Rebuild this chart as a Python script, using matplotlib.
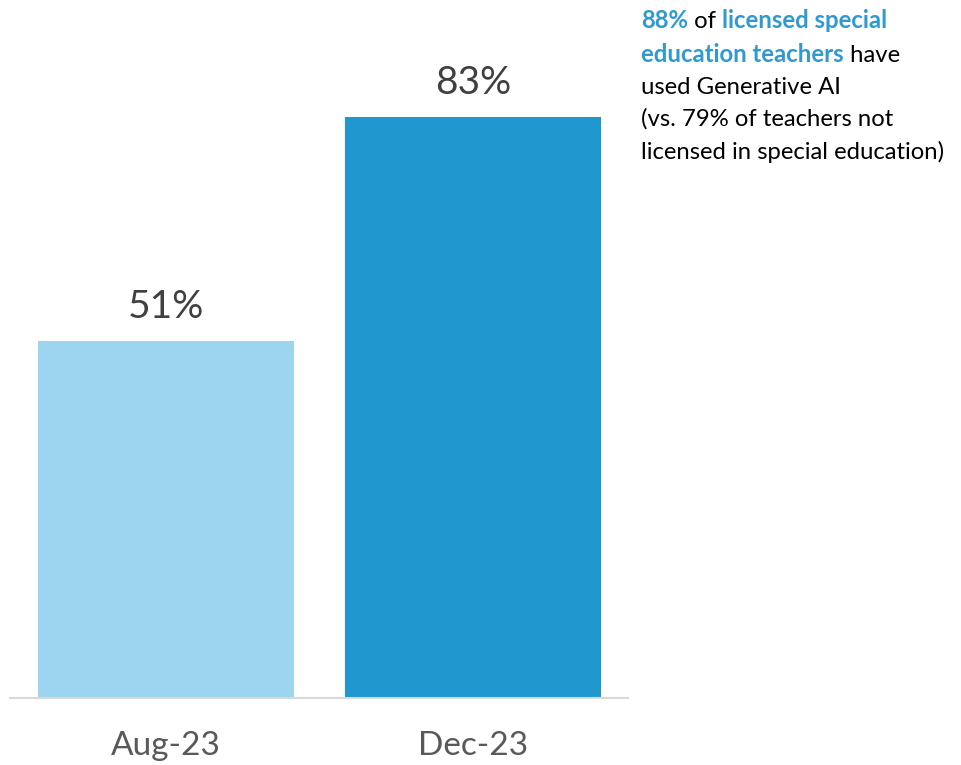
import matplotlib.pyplot as plt
from matplotlib.offsetbox import TextArea, HPacker, VPacker, AnchoredOffsetbox

# data
periods = ["Aug-23", "Dec-23"]
shares = [51, 83]
bar_colors = ["#9DD4F0", "#2097CE"]

note_lines = [
    [("88%", True), (" of ", False), ("licensed special", True)],
    [("education teachers", True), (" have", False)],
    [("used Generative AI", False)],
    [("(vs. 79% of teachers not", False)],
    [("licensed in special education)", False)],
]

plt.rcParams["font.family"] = ["Lato", "DejaVu Sans"]

fig = plt.figure(figsize=(9.61, 7.65), dpi=100)
ax = fig.add_axes([10 / 961, 67 / 765, 618 / 961, 700 / 765])

x = range(len(periods))
ax.bar(x, shares, width=0.834, color=bar_colors)
for xi, v in zip(x, shares):
    ax.text(xi, v + 2.3, f"{v}%", ha="center", va="bottom", fontsize=28, color="#404040")

ax.set_xlim(-0.508, 1.505)
ax.set_ylim(0, 100)
ax.set_xticks(list(x))
ax.set_xticklabels(periods, fontsize=24, color="#595959")
ax.tick_params(axis="x", length=0, pad=24)
ax.set_yticks([])
for s in ["top", "right", "left"]:
    ax.spines[s].set_visible(False)
ax.spines["bottom"].set_color("#D9D9D9")
ax.spines["bottom"].set_linewidth(1.5)

# annotation at upper right, mixed colours
rows = []
for line in note_lines:
    parts = []
    for txt, hl in line:
        parts.append(TextArea(txt, textprops=dict(
            fontsize=17.2,
            color="#2E9AD0" if hl else "black",
            fontweight="bold" if hl else "normal")))
    rows.append(HPacker(children=parts, align="baseline", pad=0, sep=0))
box = VPacker(children=rows, align="left", pad=0, sep=7.8)
anch = AnchoredOffsetbox(loc="upper left", child=box, frameon=False,
                         bbox_to_anchor=(641 / 961, 1 - 9 / 765),
                         bbox_transform=fig.transFigure, borderpad=0, pad=0)
fig.add_artist(anch)

fig.savefig("out.png", dpi=100)
